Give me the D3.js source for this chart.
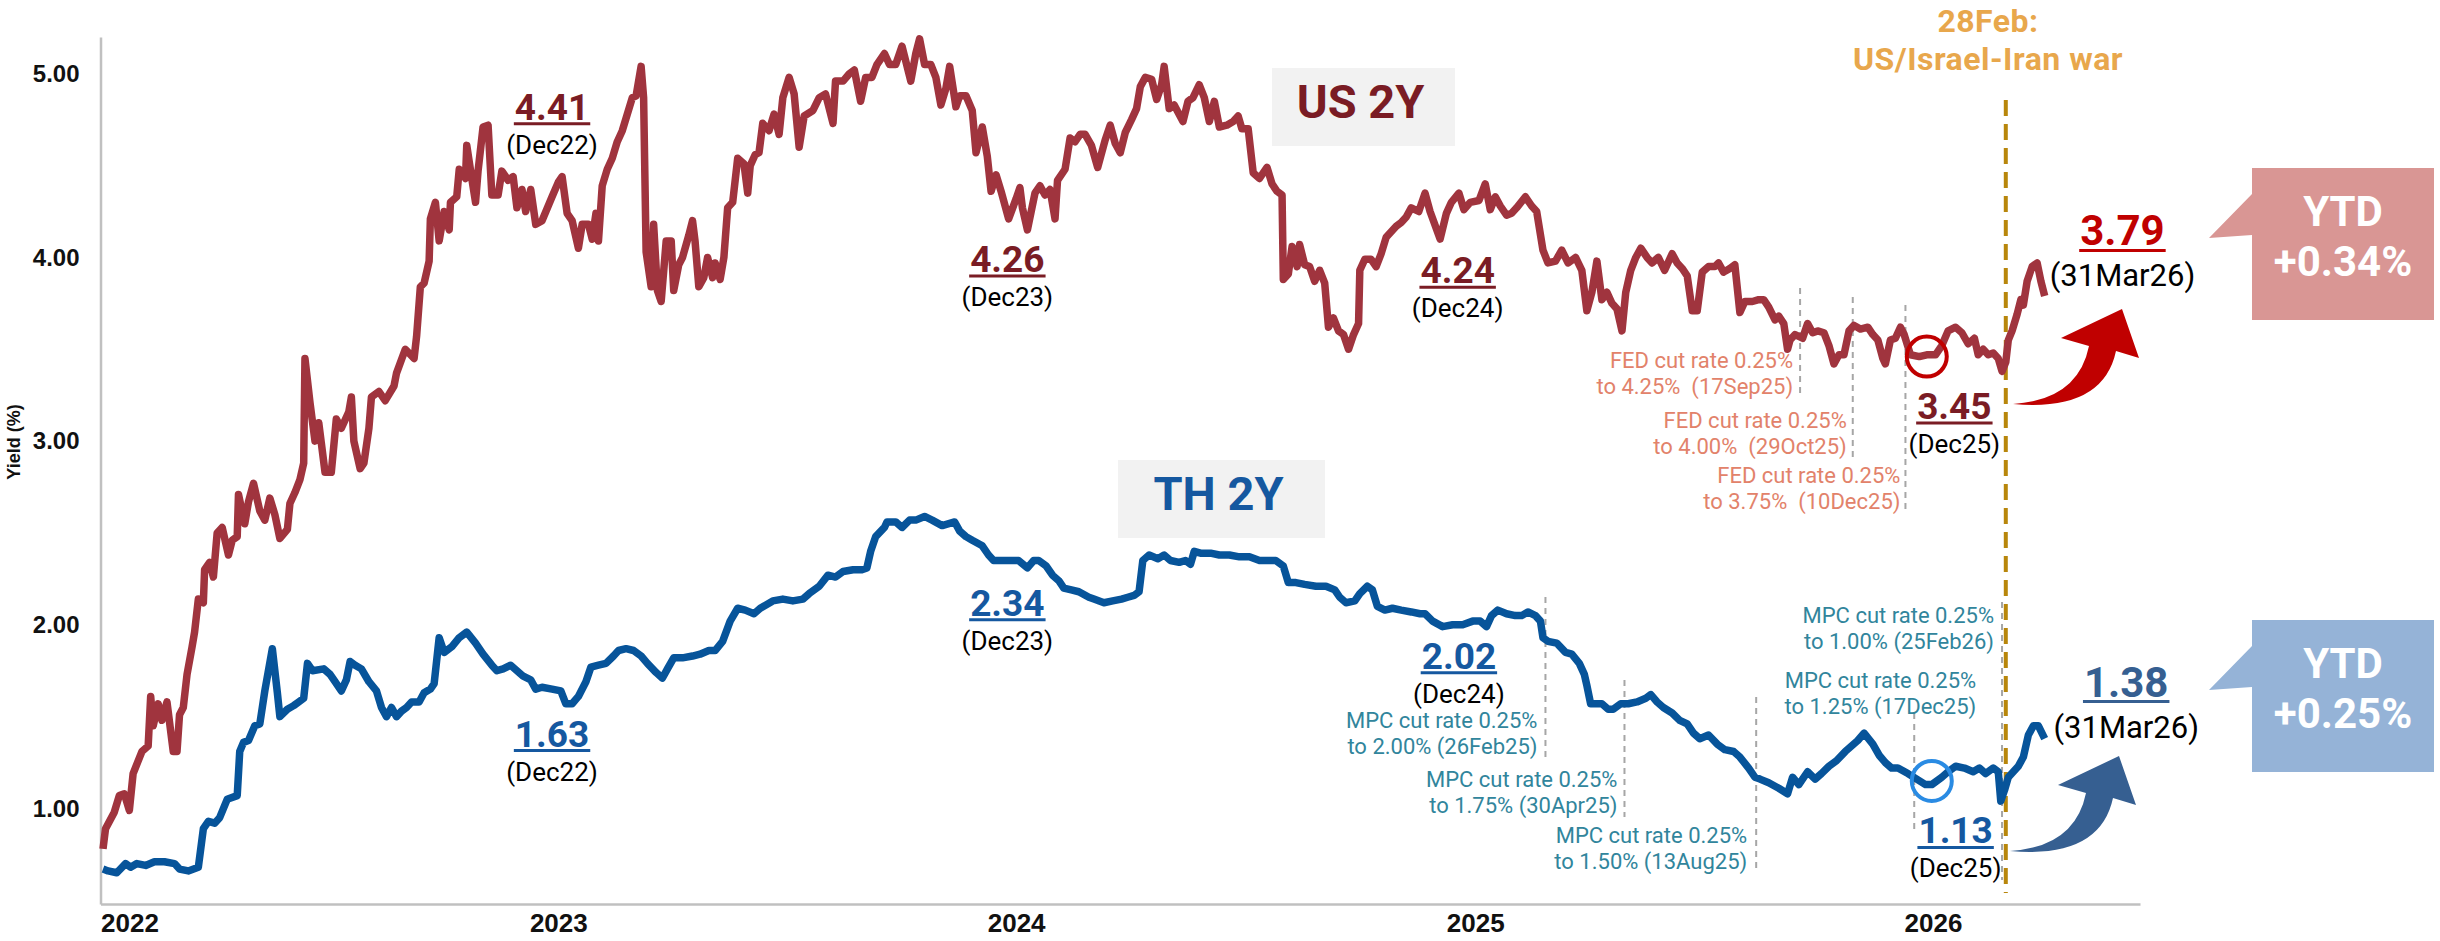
<!DOCTYPE html>
<html>
<head>
<meta charset="utf-8">
<script src="https://cdn.jsdelivr.net/npm/d3@7"></script>
<style>
  body { margin: 0; background: #fff; overflow: hidden; }
  svg { display: block; font-family: Roboto, "Open Sans", sans-serif; }
  .axis .domain { stroke: #c0c0c0; stroke-width: 2.5; }
  .axis text { font-family: "Liberation Sans", Arial, sans-serif; font-weight: bold; fill: #111; }
  .note { white-space: pre; }
</style>
</head>
<body>
<div id="chart"></div>
<script>
var width = 2440,
    height = 941;

// US 2Y government bond yield (%)
var us2y = [
  ["2022-01-03",0.78],["2022-01-05",0.89],["2022-01-12",0.98],["2022-01-16",1.07],["2022-01-20",1.08],["2022-01-24",0.99],
  ["2022-01-27",1.19],["2022-02-03",1.31],["2022-02-08",1.34],["2022-02-10",1.61],["2022-02-12",1.45],["2022-02-16",1.57],
  ["2022-02-19",1.48],["2022-02-23",1.58],["2022-02-28",1.31],["2022-03-03",1.31],["2022-03-05",1.51],["2022-03-08",1.55],
  ["2022-03-11",1.73],["2022-03-15",1.88],["2022-03-17",1.96],["2022-03-20",2.14],["2022-03-24",2.12],["2022-03-25",2.30],
  ["2022-03-29",2.34],["2022-04-01",2.26],["2022-04-04",2.50],["2022-04-08",2.53],["2022-04-13",2.38],["2022-04-16",2.46],
  ["2022-04-20",2.48],["2022-04-21",2.71],["2022-04-26",2.55],["2022-04-29",2.67],["2022-05-03",2.77],["2022-05-08",2.62],
  ["2022-05-12",2.57],["2022-05-16",2.69],["2022-05-20",2.60],["2022-05-24",2.47],["2022-05-30",2.52],["2022-06-01",2.66],
  ["2022-06-05",2.72],["2022-06-09",2.79],["2022-06-12",2.88],["2022-06-13",3.45],["2022-06-17",3.21],["2022-06-21",3.00],
  ["2022-06-24",3.10],["2022-06-29",2.83],["2022-07-04",2.83],["2022-07-08",3.12],["2022-07-12",3.07],["2022-07-18",3.16],
  ["2022-07-20",3.24],["2022-07-22",3.00],["2022-07-27",2.85],["2022-07-30",2.88],["2022-08-03",3.07],["2022-08-05",3.24],
  ["2022-08-11",3.27],["2022-08-16",3.22],["2022-08-23",3.30],["2022-08-25",3.37],["2022-09-01",3.50],["2022-09-08",3.45],
  ["2022-09-10",3.57],["2022-09-13",3.84],["2022-09-16",3.86],["2022-09-20",3.98],["2022-09-21",4.21],["2022-09-25",4.30],
  ["2022-09-28",4.09],["2022-10-02",4.25],["2022-10-06",4.15],["2022-10-07",4.30],["2022-10-12",4.33],["2022-10-14",4.48],
  ["2022-10-19",4.43],["2022-10-20",4.61],["2022-10-24",4.43],["2022-10-27",4.30],["2022-10-29",4.47],["2022-11-02",4.71],
  ["2022-11-06",4.72],["2022-11-09",4.34],["2022-11-14",4.34],["2022-11-17",4.47],["2022-11-22",4.42],["2022-11-26",4.44],
  ["2022-11-29",4.27],["2022-12-03",4.37],["2022-12-06",4.25],["2022-12-10",4.37],["2022-12-14",4.18],["2022-12-19",4.20],
  ["2022-12-27",4.33],["2023-01-01",4.41],["2023-01-04",4.44],["2023-01-08",4.24],["2023-01-12",4.20],["2023-01-17",4.05],
  ["2023-01-20",4.18],["2023-01-25",4.18],["2023-01-28",4.10],["2023-01-31",4.24],["2023-02-02",4.09],["2023-02-05",4.39],
  ["2023-02-09",4.48],["2023-02-13",4.54],["2023-02-17",4.63],["2023-02-21",4.69],["2023-02-25",4.78],["2023-03-01",4.87],
  ["2023-03-04",4.88],["2023-03-08",5.04],["2023-03-10",4.87],["2023-03-12",4.03],["2023-03-16",3.84],["2023-03-18",4.18],
  ["2023-03-21",3.82],["2023-03-24",3.76],["2023-03-28",4.09],["2023-04-01",4.09],["2023-04-03",3.82],["2023-04-07",3.96],
  ["2023-04-10",4.00],["2023-04-15",4.12],["2023-04-18",4.20],["2023-04-20",4.09],["2023-04-23",3.84],["2023-04-27",3.89],
  ["2023-04-30",4.00],["2023-05-04",3.89],["2023-05-06",3.97],["2023-05-10",3.88],["2023-05-13",4.00],["2023-05-16",4.27],
  ["2023-05-20",4.30],["2023-05-24",4.54],["2023-05-29",4.51],["2023-06-01",4.35],["2023-06-03",4.50],["2023-06-07",4.56],
  ["2023-06-10",4.57],["2023-06-13",4.73],["2023-06-18",4.69],["2023-06-22",4.78],["2023-06-26",4.67],["2023-06-29",4.87],
  ["2023-07-04",4.98],["2023-07-08",4.89],["2023-07-12",4.60],["2023-07-16",4.77],["2023-07-23",4.80],["2023-07-28",4.87],
  ["2023-08-02",4.89],["2023-08-08",4.73],["2023-08-10",4.96],["2023-08-16",4.96],["2023-08-21",5.00],["2023-08-25",5.02],
  ["2023-08-30",4.85],["2023-09-03",4.98],["2023-09-08",4.98],["2023-09-12",5.05],["2023-09-18",5.11],["2023-09-22",5.05],
  ["2023-09-27",5.05],["2023-10-02",5.15],["2023-10-09",4.96],["2023-10-13",5.11],["2023-10-16",5.19],["2023-10-20",5.05],
  ["2023-10-25",5.05],["2023-10-29",4.98],["2023-11-02",4.83],["2023-11-06",4.92],["2023-11-09",5.04],["2023-11-14",4.82],
  ["2023-11-17",4.88],["2023-11-22",4.88],["2023-11-27",4.80],["2023-11-30",4.57],["2023-12-05",4.71],["2023-12-09",4.55],
  ["2023-12-12",4.36],["2023-12-16",4.45],["2023-12-20",4.36],["2023-12-26",4.21],["2024-01-01",4.32],["2024-01-04",4.38],
  ["2024-01-06",4.27],["2024-01-10",4.15],["2024-01-16",4.35],["2024-01-20",4.39],["2024-01-24",4.34],["2024-01-28",4.37],
  ["2024-02-01",4.21],["2024-02-03",4.42],["2024-02-09",4.48],["2024-02-13",4.65],["2024-02-17",4.63],["2024-02-21",4.67],
  ["2024-02-25",4.67],["2024-03-01",4.61],["2024-03-06",4.49],["2024-03-12",4.64],["2024-03-16",4.72],["2024-03-20",4.62],
  ["2024-03-24",4.57],["2024-03-28",4.68],["2024-04-02",4.75],["2024-04-06",4.81],["2024-04-09",4.93],["2024-04-13",4.98],
  ["2024-04-18",4.97],["2024-04-22",4.86],["2024-04-26",4.94],["2024-04-28",5.04],["2024-05-02",4.81],["2024-05-06",4.83],
  ["2024-05-13",4.74],["2024-05-17",4.85],["2024-05-21",4.87],["2024-05-26",4.94],["2024-05-30",4.87],["2024-06-03",4.74],
  ["2024-06-07",4.85],["2024-06-11",4.71],["2024-06-17",4.72],["2024-06-22",4.74],["2024-06-26",4.77],["2024-06-29",4.70],
  ["2024-07-04",4.70],["2024-07-08",4.46],["2024-07-13",4.43],["2024-07-19",4.49],["2024-07-23",4.40],["2024-07-27",4.36],
  ["2024-07-31",4.34],["2024-08-01",3.88],["2024-08-05",3.91],["2024-08-08",4.06],["2024-08-12",3.95],["2024-08-14",4.07],
  ["2024-08-18",3.96],["2024-08-22",3.95],["2024-08-26",3.87],["2024-08-30",3.93],["2024-09-03",3.86],["2024-09-06",3.62],
  ["2024-09-10",3.67],["2024-09-14",3.60],["2024-09-18",3.58],["2024-09-22",3.50],["2024-09-26",3.58],["2024-09-30",3.64],
  ["2024-10-01",3.93],["2024-10-05",3.99],["2024-10-10",3.99],["2024-10-14",3.95],["2024-10-18",4.02],["2024-10-22",4.11],
  ["2024-10-26",4.14],["2024-10-30",4.17],["2024-11-03",4.19],["2024-11-07",4.22],["2024-11-11",4.27],["2024-11-17",4.25],
  ["2024-11-22",4.35],["2024-11-26",4.25],["2024-12-04",4.10],["2024-12-09",4.24],["2024-12-13",4.30],["2024-12-19",4.35],
  ["2024-12-23",4.26],["2024-12-28",4.30],["2025-01-04",4.31],["2025-01-09",4.40],["2025-01-13",4.26],["2025-01-17",4.33],
  ["2025-01-21",4.28],["2025-01-26",4.23],["2025-01-30",4.24],["2025-02-03",4.27],["2025-02-10",4.33],["2025-02-15",4.28],
  ["2025-02-19",4.25],["2025-02-24",4.04],["2025-02-28",3.97],["2025-03-06",3.98],["2025-03-11",4.04],["2025-03-16",3.97],
  ["2025-03-22",4.00],["2025-03-27",3.93],["2025-03-31",3.71],["2025-04-04",3.81],["2025-04-08",3.98],["2025-04-12",3.77],
  ["2025-04-16",3.81],["2025-04-20",3.75],["2025-04-24",3.72],["2025-04-28",3.60],["2025-05-01",3.81],["2025-05-05",3.93],
  ["2025-05-09",4.00],["2025-05-13",4.05],["2025-05-18",4.00],["2025-05-22",3.97],["2025-05-27",4.00],["2025-06-01",3.93],
  ["2025-06-07",4.02],["2025-06-11",3.97],["2025-06-15",3.94],["2025-06-19",3.90],["2025-06-23",3.71],["2025-06-27",3.71],
  ["2025-07-01",3.92],["2025-07-06",3.95],["2025-07-11",3.95],["2025-07-14",3.97],["2025-07-18",3.92],["2025-07-23",3.94],
  ["2025-07-27",3.96],["2025-07-31",3.70],["2025-08-04",3.76],["2025-08-10",3.76],["2025-08-15",3.77],["2025-08-19",3.77],
  ["2025-08-23",3.73],["2025-08-28",3.66],["2025-08-31",3.68],["2025-09-04",3.64],["2025-09-07",3.50],["2025-09-09",3.55],
  ["2025-09-13",3.58],["2025-09-19",3.56],["2025-09-23",3.64],["2025-09-27",3.59],["2025-10-01",3.60],["2025-10-06",3.59],
  ["2025-10-10",3.52],["2025-10-14",3.42],["2025-10-18",3.47],["2025-10-22",3.47],["2025-10-26",3.60],["2025-10-30",3.63],
  ["2025-11-04",3.61],["2025-11-10",3.62],["2025-11-14",3.58],["2025-11-18",3.55],["2025-11-22",3.45],["2025-11-24",3.42],
  ["2025-11-28",3.55],["2025-12-02",3.56],["2025-12-06",3.62],["2025-12-09",3.58],["2025-12-14",3.47],["2025-12-21",3.46],
  ["2025-12-27",3.47],["2026-01-03",3.47],["2026-01-08",3.52],["2026-01-13",3.60],["2026-01-19",3.62],["2026-01-24",3.59],
  ["2026-01-29",3.53],["2026-02-03",3.56],["2026-02-06",3.47],["2026-02-10",3.50],["2026-02-14",3.47],["2026-02-18",3.48],
  ["2026-02-22",3.45],["2026-02-25",3.38],["2026-02-28",3.43],["2026-03-02",3.55],["2026-03-05",3.60],["2026-03-09",3.69],
  ["2026-03-12",3.77],["2026-03-14",3.74],["2026-03-17",3.87],["2026-03-21",3.95],["2026-03-25",3.97],["2026-03-28",3.87],
  ["2026-03-31",3.79]
];

// TH 2Y government bond yield (%)
var th2y = [
  ["2022-01-03",0.67],["2022-01-07",0.66],["2022-01-14",0.65],["2022-01-21",0.70],["2022-01-25",0.68],["2022-01-30",0.70],
  ["2022-02-06",0.69],["2022-02-13",0.71],["2022-02-21",0.71],["2022-03-01",0.70],["2022-03-05",0.67],["2022-03-12",0.66],
  ["2022-03-20",0.68],["2022-03-24",0.89],["2022-03-28",0.93],["2022-04-02",0.92],["2022-04-06",0.95],["2022-04-12",1.05],
  ["2022-04-20",1.07],["2022-04-22",1.31],["2022-04-25",1.36],["2022-04-29",1.37],["2022-05-04",1.45],["2022-05-08",1.46],
  ["2022-05-10",1.55],["2022-05-12",1.64],["2022-05-18",1.87],["2022-05-22",1.63],["2022-05-24",1.50],["2022-05-30",1.54],
  ["2022-06-04",1.56],["2022-06-08",1.58],["2022-06-12",1.60],["2022-06-15",1.79],["2022-06-19",1.75],["2022-06-28",1.76],
  ["2022-07-03",1.73],["2022-07-07",1.69],["2022-07-12",1.64],["2022-07-16",1.70],["2022-07-19",1.80],["2022-07-23",1.78],
  ["2022-07-28",1.76],["2022-08-03",1.69],["2022-08-09",1.64],["2022-08-13",1.55],["2022-08-17",1.50],["2022-08-21",1.55],
  ["2022-08-25",1.50],["2022-08-29",1.53],["2022-09-02",1.55],["2022-09-06",1.58],["2022-09-12",1.58],["2022-09-16",1.63],
  ["2022-09-21",1.65],["2022-09-24",1.68],["2022-09-28",1.93],["2022-10-02",1.85],["2022-10-08",1.88],["2022-10-14",1.93],
  ["2022-10-20",1.96],["2022-10-27",1.90],["2022-11-02",1.84],["2022-11-09",1.78],["2022-11-13",1.75],["2022-11-18",1.76],
  ["2022-11-24",1.78],["2022-11-29",1.75],["2022-12-04",1.72],["2022-12-10",1.70],["2022-12-14",1.65],["2022-12-19",1.66],
  ["2022-12-27",1.65],["2023-01-03",1.64],["2023-01-07",1.57],["2023-01-12",1.57],["2023-01-17",1.61],["2023-01-23",1.69],
  ["2023-01-27",1.77],["2023-02-02",1.78],["2023-02-08",1.79],["2023-02-14",1.83],["2023-02-18",1.86],["2023-02-24",1.87],
  ["2023-03-02",1.86],["2023-03-08",1.83],["2023-03-13",1.79],["2023-03-20",1.74],["2023-03-25",1.71],["2023-03-29",1.76],
  ["2023-04-03",1.82],["2023-04-10",1.82],["2023-04-18",1.83],["2023-04-24",1.84],["2023-05-01",1.86],["2023-05-06",1.86],
  ["2023-05-12",1.91],["2023-05-18",2.02],["2023-05-24",2.09],["2023-05-30",2.08],["2023-06-06",2.06],["2023-06-11",2.09],
  ["2023-06-21",2.13],["2023-06-29",2.14],["2023-07-07",2.13],["2023-07-15",2.14],["2023-07-20",2.17],["2023-07-28",2.21],
  ["2023-08-04",2.27],["2023-08-10",2.26],["2023-08-16",2.29],["2023-08-24",2.30],["2023-08-31",2.30],["2023-09-04",2.31],
  ["2023-09-07",2.40],["2023-09-11",2.48],["2023-09-18",2.53],["2023-09-20",2.56],["2023-09-27",2.56],["2023-10-02",2.53],
  ["2023-10-08",2.57],["2023-10-13",2.57],["2023-10-20",2.59],["2023-10-26",2.57],["2023-11-03",2.54],["2023-11-13",2.56],
  ["2023-11-17",2.51],["2023-11-22",2.48],["2023-11-27",2.46],["2023-12-05",2.43],["2023-12-10",2.38],["2023-12-14",2.35],
  ["2023-12-24",2.35],["2024-01-03",2.35],["2024-01-10",2.31],["2024-01-15",2.35],["2024-01-19",2.35],["2024-01-25",2.32],
  ["2024-01-30",2.27],["2024-02-04",2.24],["2024-02-08",2.20],["2024-02-14",2.19],["2024-02-20",2.18],["2024-02-28",2.15],
  ["2024-03-03",2.14],["2024-03-11",2.12],["2024-03-18",2.13],["2024-03-25",2.14],["2024-03-30",2.15],["2024-04-04",2.16],
  ["2024-04-08",2.18],["2024-04-11",2.35],["2024-04-16",2.38],["2024-04-23",2.36],["2024-04-28",2.38],["2024-05-03",2.35],
  ["2024-05-10",2.34],["2024-05-15",2.35],["2024-05-19",2.33],["2024-05-22",2.40],["2024-05-27",2.39],["2024-06-04",2.39],
  ["2024-06-11",2.38],["2024-06-19",2.38],["2024-06-27",2.37],["2024-07-05",2.37],["2024-07-13",2.35],["2024-07-20",2.35],
  ["2024-07-26",2.35],["2024-08-01",2.32],["2024-08-05",2.23],["2024-08-11",2.23],["2024-08-18",2.22],["2024-08-27",2.21],
  ["2024-09-04",2.21],["2024-09-11",2.19],["2024-09-15",2.15],["2024-09-20",2.12],["2024-09-27",2.13],["2024-10-01",2.17],
  ["2024-10-07",2.21],["2024-10-11",2.19],["2024-10-15",2.10],["2024-10-21",2.08],["2024-10-27",2.09],["2024-11-03",2.08],
  ["2024-11-11",2.07],["2024-11-18",2.06],["2024-11-22",2.06],["2024-11-28",2.02],["2024-12-06",1.99],["2024-12-14",2.00],
  ["2024-12-22",2.00],["2024-12-30",2.02],["2025-01-05",2.02],["2025-01-10",1.99],["2025-01-14",2.05],["2025-01-19",2.08],
  ["2025-01-26",2.06],["2025-02-02",2.05],["2025-02-07",2.05],["2025-02-12",2.07],["2025-02-18",2.05],["2025-02-22",2.02],
  ["2025-02-24",1.93],["2025-02-28",1.91],["2025-03-07",1.90],["2025-03-14",1.85],["2025-03-19",1.84],["2025-03-25",1.79],
  ["2025-03-29",1.73],["2025-03-31",1.67],["2025-04-03",1.57],["2025-04-07",1.57],["2025-04-12",1.57],["2025-04-17",1.54],
  ["2025-04-21",1.54],["2025-04-27",1.57],["2025-05-03",1.57],["2025-05-10",1.58],["2025-05-17",1.60],["2025-05-21",1.62],
  ["2025-05-26",1.58],["2025-05-31",1.55],["2025-06-07",1.52],["2025-06-13",1.48],["2025-06-19",1.46],["2025-06-24",1.41],
  ["2025-06-29",1.38],["2025-07-06",1.40],["2025-07-13",1.35],["2025-07-19",1.32],["2025-07-26",1.31],["2025-07-31",1.28],
  ["2025-08-07",1.22],["2025-08-12",1.17],["2025-08-16",1.16],["2025-08-23",1.14],["2025-08-31",1.11],["2025-09-07",1.08],
  ["2025-09-11",1.17],["2025-09-16",1.13],["2025-09-23",1.20],["2025-09-29",1.16],["2025-10-04",1.19],["2025-10-10",1.23],
  ["2025-10-16",1.26],["2025-10-23",1.31],["2025-10-28",1.34],["2025-11-02",1.37],["2025-11-07",1.41],["2025-11-14",1.35],
  ["2025-11-19",1.29],["2025-11-24",1.25],["2025-11-29",1.22],["2025-12-04",1.22],["2025-12-12",1.19],["2025-12-19",1.16],
  ["2025-12-26",1.13],["2025-12-31",1.13],["2026-01-08",1.17],["2026-01-13",1.20],["2026-01-19",1.23],["2026-01-26",1.22],
  ["2026-02-02",1.20],["2026-02-07",1.22],["2026-02-12",1.19],["2026-02-18",1.22],["2026-02-22",1.20],["2026-02-24",1.04],
  ["2026-02-27",1.10],["2026-03-02",1.17],["2026-03-06",1.20],["2026-03-10",1.23],["2026-03-14",1.28],["2026-03-18",1.40],
  ["2026-03-22",1.45],["2026-03-26",1.45],["2026-03-31",1.38]
];

var yearTicks = ["2022-01-01", "2023-01-01", "2024-01-01", "2025-01-01", "2026-01-01"];
var yTicks = [1, 2, 3, 4, 5];

var usLabels  = ["4.41", "4.26", "4.24", "3.45"];
var thLabels  = ["1.63", "2.34", "2.02", "1.13"];
var periods   = ["(Dec22)", "(Dec23)", "(Dec24)", "(Dec25)"];
var lastLabel = { us: "3.79", th: "1.38", period: "(31Mar26)" };
var ytd       = { us: "+0.34%", th: "+0.25%" };

var fedCuts = [
  { date: "2025-09-17", text: ["FED cut rate 0.25%", "to 4.25%  (17Sep25)"] },
  { date: "2025-10-29", text: ["FED cut rate 0.25%", "to 4.00%  (29Oct25)"] },
  { date: "2025-12-10", text: ["FED cut rate 0.25%", "to 3.75%  (10Dec25)"] }
];
var mpcCuts = [
  { date: "2025-02-26", text: ["MPC cut rate 0.25%", "to 2.00% (26Feb25)"] },
  { date: "2025-04-30", text: ["MPC cut rate 0.25%", "to 1.75% (30Apr25)"] },
  { date: "2025-08-13", text: ["MPC cut rate 0.25%", "to 1.50% (13Aug25)"] },
  { date: "2025-12-17", text: ["MPC cut rate 0.25%", "to 1.25% (17Dec25)"] },
  { date: "2026-02-25", text: ["MPC cut rate 0.25%", "to 1.00% (25Feb26)"] }
];
var warDate  = "2026-02-28";
var warTitle = ["28Feb:", "US/Israel-Iran war"];
var lowMark  = { us: ["2025-12-27", 3.46], th: ["2025-12-31", 1.15] };

// layout (pixels / placement) ------------------------------------------
var col = {
  us: "#a0343e", usText: "#7a1c24", usBright: "#c00000", usBox: "#d99694",
  th: "#07549a", thText: "#1558a0", thArrow: "#365f91", thBox: "#95b3d7", thRing: "#2a8be3",
  fed: "#e2826a", mpc: "#31859c", war: "#b8860b", warText: "#e8a74c", guide: "#a6a6a6"
};
// label anchors: [date, yield at number baseline]
var usLabelAt = [["2022-12-27", 4.75], ["2023-12-25", 3.92], ["2024-12-18", 3.86], ["2026-01-18", 3.12]];
var thLabelAt = [["2022-12-27", 1.337], ["2023-12-25", 2.049], ["2024-12-19", 1.761], ["2026-01-19", 0.81]];
var lastAt    = { us: ["2026-06-01", 4.065], th: ["2026-06-04", 1.609] };
// cut annotation: vertical extent of guide and text baselines (px), text dx from guide
var fedLayout = [ { y0: 288, y1: 397, base: 368, dx: -7 },
                  { y0: 297, y1: 457, base: 428, dx: -6 },
                  { y0: 305, y1: 512, base: 483, dx: -5 } ];
var mpcLayout = [ { y0: 597, y1: 758, base: 728, dx: -8 },
                  { y0: 680, y1: 817, base: 787, dx: -7 },
                  { y0: 697, y1: 873, base: 843, dx: -9 },
                  { y0: 713, y1: 830, base: 688, dx: 62 },
                  { y0: 602, y1: 880, base: 623, dx: -8 } ];

var parse = d3.timeParse("%Y-%m-%d");

var svg = d3.select("#chart").append("svg")
    .attr("width", width)
    .attr("height", height);

var x = d3.scaleTime()
    .domain([parse("2022-01-01"), parse("2026-06-15")])
    .range([100.5, 2140]);

var y = d3.scaleLinear()
    .domain([0.48, 5.2])
    .range([904, 37]);

// Axes
//-----------------------------------------------------
var gY = svg.append("g")
    .attr("class", "axis")
    .attr("transform", "translate(" + x.range()[0] + ",0)")
    .call(d3.axisLeft(y)
        .tickValues(yTicks)
        .tickFormat(d3.format(".2f"))
        .tickSize(0)
        .tickPadding(21));
gY.selectAll("text").style("font-size", "24px");

var gX = svg.append("g")
    .attr("class", "axis")
    .attr("transform", "translate(0," + y.range()[0] + ")")
    .call(d3.axisBottom(x)
        .tickValues(yearTicks.map(parse))
        .tickFormat(d3.timeFormat("%Y"))
        .tickSize(0)
        .tickPadding(10));
gX.selectAll("text").style("font-size", "26px");
gX.select(".tick text").attr("text-anchor", "start");

svg.append("text")
    .attr("transform", "translate(20,442) rotate(-90)")
    .attr("text-anchor", "middle")
    .style("font-family", "'Liberation Sans', Arial, sans-serif")
    .style("font-weight", "bold")
    .style("font-size", "18px")
    .attr("fill", "#111")
    .text("Yield (%)");

// Series boxes
//-----------------------------------------------------
function seriesBox(bx, by, bw, bh, label, color) {
    svg.append("rect")
        .attr("x", bx).attr("y", by)
        .attr("width", bw).attr("height", bh)
        .attr("fill", "#f2f2f2");
    svg.append("text")
        .attr("x", bx + bw / 2 - 3)
        .attr("y", by + 50)
        .attr("text-anchor", "middle")
        .style("font-weight", 700)
        .style("font-size", "47px")
        .attr("fill", color)
        .text(label);
}
seriesBox(1272, 68, 183, 78, "US 2Y", col.usText);
seriesBox(1118, 460, 207, 78, "TH 2Y", col.thText);

// multi-line text block as one text element
function textBlock(tx, ty, lines, step, anchor) {
    var t = svg.append("text")
        .attr("class", "note")
        .attr("x", tx).attr("y", ty)
        .attr("text-anchor", anchor);
    t.selectAll("tspan")
        .data(lines)
        .enter()
        .append("tspan")
        .attr("x", tx)
        .attr("dy", function(d, i) { return i ? step : 0; })
        .text(function(d) { return d; });
    return t;
}

// Rate-cut guides
//-----------------------------------------------------
function cutNotes(list, layout, color) {
    list.forEach(function(d, i) {
        var lx = x(parse(d.date)), l = layout[i];
        svg.append("line")
            .attr("x1", lx).attr("x2", lx)
            .attr("y1", l.y0).attr("y2", l.y1)
            .attr("stroke", col.guide)
            .attr("stroke-width", 2)
            .attr("stroke-dasharray", "6,5");
        textBlock(lx + l.dx, l.base, d.text, 26, "end")
            .style("font-size", "22px")
            .attr("fill", color);
    });
}
cutNotes(fedCuts, fedLayout, col.fed);
cutNotes(mpcCuts, mpcLayout, col.mpc);

// War marker
var wx = x(parse(warDate));
svg.append("line")
    .attr("x1", wx).attr("x2", wx)
    .attr("y1", 100).attr("y2", 893)
    .attr("stroke", col.war)
    .attr("stroke-width", 4)
    .attr("stroke-dasharray", "16,8");
textBlock(1988, 32, warTitle, 38, "middle")
    .style("font-weight", 700)
    .style("font-size", "32px")
    .style("letter-spacing", "0.5px")
    .attr("fill", col.warText);

// Lines
//-----------------------------------------------------
var line = d3.line()
    .x(function(d) { return x(parse(d[0])); })
    .y(function(d) { return y(d[1]); });

svg.append("path")
    .datum(us2y)
    .attr("d", line)
    .attr("fill", "none")
    .attr("stroke", col.us)
    .attr("stroke-width", 7.5)
    .attr("stroke-linejoin", "round");

svg.append("path")
    .datum(th2y)
    .attr("d", line)
    .attr("fill", "none")
    .attr("stroke", col.th)
    .attr("stroke-width", 7.5)
    .attr("stroke-linejoin", "round");

// low rings
svg.append("circle")
    .attr("cx", x(parse(lowMark.us[0]))).attr("cy", y(lowMark.us[1]))
    .attr("r", 20).attr("fill", "none")
    .attr("stroke", col.usBright).attr("stroke-width", 4);
svg.append("circle")
    .attr("cx", x(parse(lowMark.th[0]))).attr("cy", y(lowMark.th[1]))
    .attr("r", 20).attr("fill", "none")
    .attr("stroke", col.thRing).attr("stroke-width", 4);

// Value labels
//-----------------------------------------------------
function valueLabel(at, num, period, color, big) {
    var cx = x(parse(at[0])), by = y(at[1]);
    var t = svg.append("text")
        .attr("x", cx).attr("y", by)
        .attr("text-anchor", "middle");
    var n = t.append("tspan")
        .attr("x", cx)
        .style("font-weight", 700)
        .style("font-size", big ? "42px" : "37px")
        .attr("fill", color)
        .text(num);
    t.append("tspan")
        .attr("x", cx)
        .attr("dy", big ? 41 : 34)
        .style("font-size", big ? "31px" : "26px")
        .attr("fill", "#000")
        .text(period);
    var w = n.node().getComputedTextLength();
    svg.append("line")
        .attr("x1", cx - w / 2 - 1).attr("x2", cx + w / 2 + 1)
        .attr("y1", by + (big ? 5 : 4)).attr("y2", by + (big ? 5 : 4))
        .attr("stroke", color)
        .attr("stroke-width", 3);
}
usLabels.forEach(function(v, i) { valueLabel(usLabelAt[i], v, periods[i], col.usText, false); });
thLabels.forEach(function(v, i) { valueLabel(thLabelAt[i], v, periods[i], col.thText, false); });
valueLabel(lastAt.us, lastLabel.us, lastLabel.period, col.usBright, true);
valueLabel(lastAt.th, lastLabel.th, lastLabel.period, col.thArrow, true);

// Swoosh arrows
//-----------------------------------------------------
var arrowPath = "M2013,404 Q2078,400 2089,346 L2061,338 L2122,309 L2139,358 L2116,351 Q2103,412 2013,404 Z";
svg.append("path").attr("d", arrowPath).attr("fill", col.usBright);
svg.append("path").attr("d", arrowPath).attr("fill", col.thArrow)
    .attr("transform", "translate(-3,447)");

// YTD callouts
//-----------------------------------------------------
function callout(top, fill, value) {
    var bx = 2252, bw = 182, bh = 152;
    svg.append("path")
        .attr("d", "M" + bx + "," + top + " h" + bw + " v" + bh + " h" + (-bw) +
                   " V" + (top + 67) + " L2209," + (top + 70) + " L" + bx + "," + (top + 26) + " Z")
        .attr("fill", fill);
    textBlock(bx + bw / 2, top + 58, ["YTD", value], 50, "middle")
        .style("font-weight", 700)
        .style("font-size", "42px")
        .attr("fill", "#fff");
}
callout(168, col.usBox, ytd.us);
callout(620, col.thBox, ytd.th);
</script>
</body>
</html>
